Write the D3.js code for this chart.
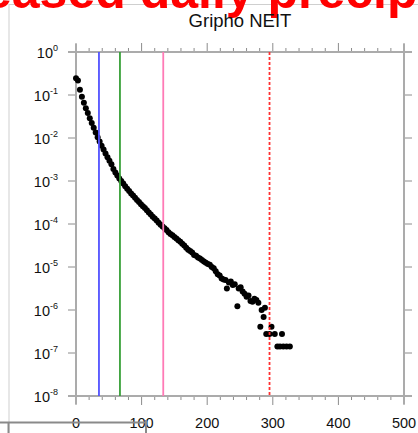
<!DOCTYPE html>
<html>
<head>
<meta charset="utf-8">
<script src="https://cdn.jsdelivr.net/npm/d3@7"></script>
<style>
  body { margin: 0; background: #fff; }
  svg { display: block; font-family: "Liberation Sans", Arial, Helvetica, sans-serif; }
</style>
</head>
<body>
<svg id="chart" width="418" height="433"></svg>
<script>
// precipitation bins (mm/day) and log10 of the frequency
const precip = [
  0, 3, 6, 9, 12, 15, 18, 21, 24, 27, 30, 33, 36, 39, 42, 45, 48, 51, 54, 57,
  60, 63, 66, 69, 72, 75, 78, 81, 84, 87, 90, 93, 96, 99, 102, 105, 108, 111, 114, 117,
  120, 123, 126, 129, 132, 135, 138, 141, 144, 147, 150, 153, 156, 159, 162, 165, 168, 171, 174, 177,
  180, 183, 186, 189, 192, 195, 198, 201, 204, 207, 210, 213, 216, 219, 222, 225, 228, 230, 233, 236,
  239, 242, 246, 248, 251, 254, 257, 260, 263, 266, 269, 272, 275, 278, 281, 283, 286, 288, 290, 295,
  298, 303, 307, 311, 314, 316, 321, 326
];
const logFreq = [
  -0.61, -0.66, -0.88, -1.04, -1.18, -1.31, -1.42, -1.54, -1.65, -1.76, -1.87, -1.98, -2.08, -2.18, -2.27, -2.36, -2.45, -2.53, -2.61, -2.72,
  -2.80, -2.87, -2.94, -3.00, -3.06, -3.12, -3.18, -3.23, -3.29, -3.34, -3.39, -3.44, -3.49, -3.54, -3.59, -3.63, -3.68, -3.73, -3.78, -3.83,
  -3.87, -3.92, -3.97, -4.02, -4.06, -4.10, -4.14, -4.19, -4.23, -4.26, -4.30, -4.34, -4.38, -4.41, -4.46, -4.50, -4.55, -4.60, -4.63, -4.66,
  -4.72, -4.74, -4.78, -4.80, -4.84, -4.87, -4.90, -4.93, -4.95, -5.00, -5.03, -5.10, -5.17, -5.20, -5.27, -5.29, -5.30, -5.50, -5.36, -5.34,
  -5.42, -5.40, -5.91, -5.50, -5.47, -5.57, -5.62, -5.69, -5.66, -5.79, -5.81, -5.74, -5.77, -5.83, -6.39, -6.00, -6.16, -5.95, -6.56, -6.56,
  -6.39, -6.56, -6.85, -6.85, -6.56, -6.85, -6.85, -6.85
];

// reference thresholds (mm/day)
const thresholds = [35, 67, 133, 295];
const thresholdColors = ['#5252ff', '#38a038', '#ff7ab6', '#ff3030'];
const thresholdDashed = [false, false, false, true];

const xMajor = [0, 100, 200, 300, 400, 500];
const xMinor = d3.range(0, 501, 20);
const yExps = [0, -1, -2, -3, -4, -5, -6, -7, -8];

const title = 'Gripho NEIT';
const bigTitle = 'Increased daily precipitation';

const svg = d3.select('#chart');

const x = d3.scaleLinear().domain([0, 500]).range([76, 404]);
const y = d3.scaleLog().domain([1e-8, 1]).range([396, 52]);

// pieces of the neighbouring panels
svg.append('line').attr('x1', 9).attr('x2', 9).attr('y1', 4).attr('y2', 433)
  .attr('stroke', '#cfcfcf').attr('stroke-width', 1);
svg.append('line').attr('x1', 9).attr('x2', 418).attr('y1', 4.5).attr('y2', 4.5)
  .attr('stroke', '#cfcfcf').attr('stroke-width', 1);

const big = svg.append('text')
  .attr('y', 7.5)
  .attr('fill', '#ff0000')
  .attr('font-weight', 'bold')
  .attr('font-size', 50)
  .text(bigTitle);
const prefix = big.node().getSubStringLength(0, 4);
big.attr('x', -16 - prefix);

svg.append('text')
  .attr('x', (x.range()[0] + x.range()[1]) / 2)
  .attr('y', 27)
  .attr('text-anchor', 'middle')
  .attr('font-size', 18.5)
  .attr('fill', '#111')
  .text(title);

const axisColor = '#ababab';
const tickColor = '#8c8c8c';

// ticks
const ticks = svg.append('g').attr('stroke', tickColor).attr('stroke-width', 1);
ticks.selectAll('.xb').data(xMinor).join('line')
  .attr('x1', d => x(d)).attr('x2', d => x(d))
  .attr('y1', y(1e-8)).attr('y2', d => y(1e-8) + (xMajor.includes(d) ? 9 : 4));
ticks.selectAll('.xt').data(xMinor).join('line')
  .attr('x1', d => x(d)).attr('x2', d => x(d))
  .attr('y1', y(1)).attr('y2', d => y(1) - (xMajor.includes(d) ? 9 : 4));
ticks.selectAll('.yl').data(yExps).join('line')
  .attr('x1', x(0) - 8).attr('x2', x(0))
  .attr('y1', d => y(Math.pow(10, d))).attr('y2', d => y(Math.pow(10, d)));
ticks.selectAll('.yr').data(yExps).join('line')
  .attr('x1', x(500)).attr('x2', x(500) + 8)
  .attr('y1', d => y(Math.pow(10, d))).attr('y2', d => y(Math.pow(10, d)));

// frame, lines overshoot by the tick length
const frame = svg.append('g').attr('stroke', axisColor).attr('stroke-width', 2);
frame.append('line').attr('x1', x(0) - 8).attr('x2', x(500) + 8).attr('y1', y(1e-8)).attr('y2', y(1e-8));
frame.append('line').attr('x1', x(0) - 8).attr('x2', x(500) + 8).attr('y1', y(1)).attr('y2', y(1));
frame.append('line').attr('x1', x(0)).attr('x2', x(0)).attr('y1', y(1) - 8).attr('y2', y(1e-8) + 8);
frame.append('line').attr('x1', x(500)).attr('x2', x(500)).attr('y1', y(1) - 8).attr('y2', y(1e-8) + 8);

// tick labels
svg.append('g').selectAll('text').data(xMajor).join('text')
  .attr('x', d => x(d)).attr('y', 428)
  .attr('text-anchor', 'middle').attr('font-size', 14.5).attr('fill', '#111')
  .text(d => d);

const yl = svg.append('g').selectAll('text').data(yExps).join('text')
  .attr('x', 58).attr('y', d => y(Math.pow(10, d)) + 6)
  .attr('text-anchor', 'end').attr('font-size', 14.5).attr('fill', '#111');
yl.append('tspan').text('10');
yl.append('tspan').attr('dy', -7).attr('font-size', 9).text(d => d);

// points
svg.append('g').selectAll('circle').data(precip).join('circle')
  .attr('cx', d => x(d))
  .attr('cy', (d, i) => y(Math.pow(10, logFreq[i])))
  .attr('r', 3)
  .attr('fill', '#000');

// threshold lines
svg.append('g').selectAll('line').data(thresholds).join('line')
  .attr('x1', d => x(d)).attr('x2', d => x(d))
  .attr('y1', y(1)).attr('y2', y(1e-8))
  .attr('stroke', (d, i) => thresholdColors[i])
  .attr('stroke-width', 1.8)
  .attr('stroke-dasharray', (d, i) => thresholdDashed[i] ? '3,2' : null);

// axis of the panel below, crossing the labels
svg.append('line').attr('x1', 0).attr('x2', 146).attr('y1', 422.5).attr('y2', 422.5)
  .attr('stroke', '#8a8a8a').attr('stroke-width', 2);
svg.append('line').attr('x1', 8.5).attr('x2', 8.5).attr('y1', 422).attr('y2', 433)
  .attr('stroke', '#8a8a8a').attr('stroke-width', 2);
svg.append('line').attr('x1', 146).attr('x2', 146).attr('y1', 420).attr('y2', 433)
  .attr('stroke', '#8a8a8a').attr('stroke-width', 2);
</script>
</body>
</html>
